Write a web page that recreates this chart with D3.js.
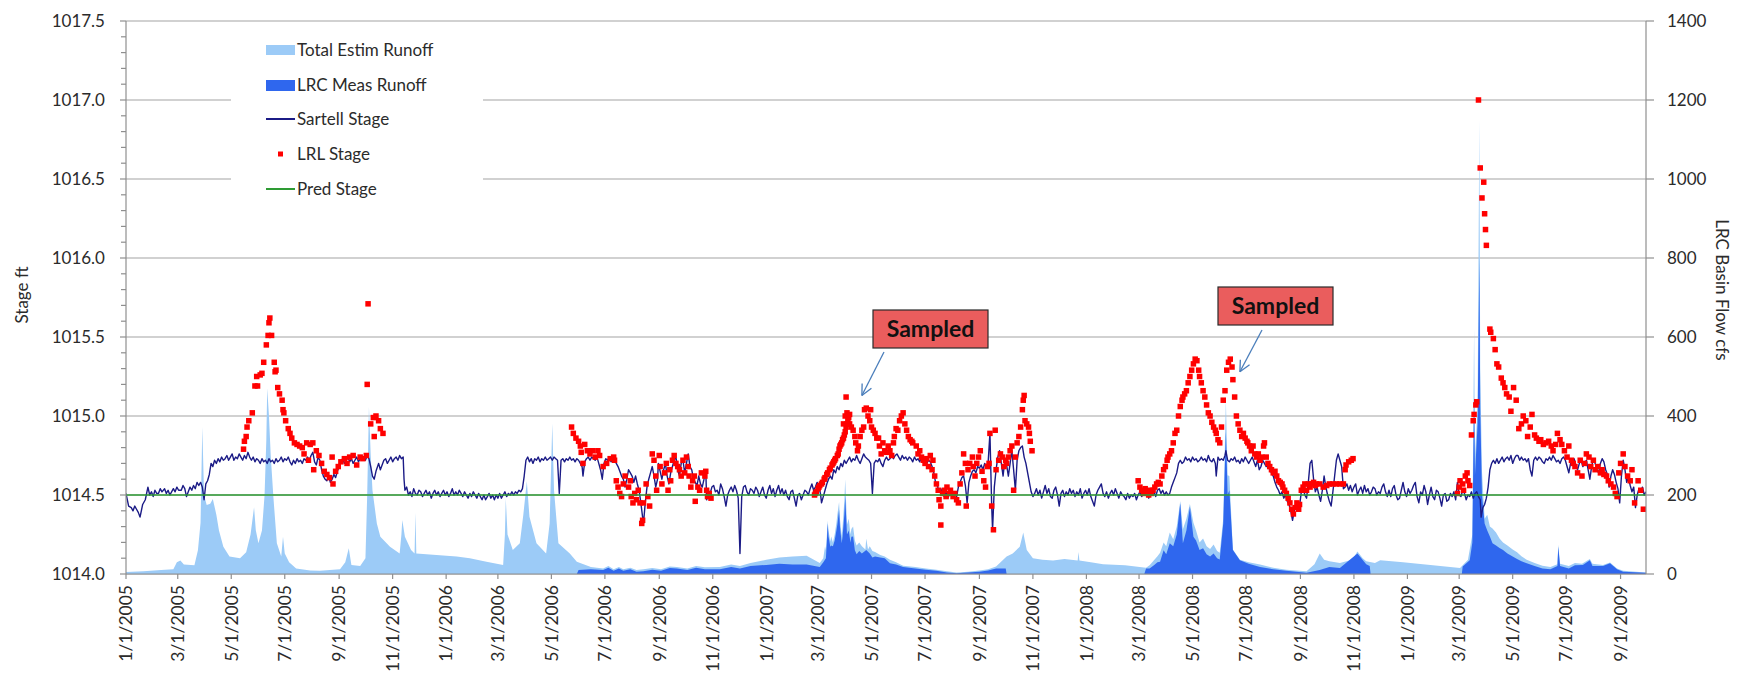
<!DOCTYPE html>
<html>
<head>
<meta charset="utf-8">
<script src="https://cdn.jsdelivr.net/npm/d3@7"></script>
<style>
html, body { margin: 0; padding: 0; background: #fff; }
svg { display: block; font-family: Lato, "Open Sans", "Noto Sans", sans-serif; }
</style>
</head>
<body>
<svg id="chart" width="1742" height="679"></svg>
<script>
// ---- data ------------------------------------------------------------
// Every series is keyed by day number counted from 1 Jan 2005.
const startDate = "2005-01-01";
const lastDay = 1733;

const stageTicks = [1014.0, 1014.5, 1015.0, 1015.5, 1016.0, 1016.5, 1017.0, 1017.5];
const flowTicks = [0, 200, 400, 600, 800, 1000, 1200, 1400];

const seriesNames = ["Total Estim Runoff", "LRC Meas Runoff", "Sartell Stage", "LRL Stage", "Pred Stage"];

// Total estimated runoff, cfs
const totalRunoff = [
[0,5],[20,7],[40,10],[54,12],[58,30],[62,34],[66,24],[78,22],[82,60],[85,130],[87,372],[89,200],[92,175],[96,178],[99,190],[103,150],[106,110],[111,69],[118,44],[130,40],[137,55],[142,100],[146,169],[148,111],[151,78],[155,110],[158,200],[160,340],[161,470],[163,400],[165,300],[168,196],[172,78],[177,44],[179,94],[181,52],[186,30],[194,14],[210,9],[221,8],[244,12],[250,30],[254,65],[257,23],[267,20],[273,40],[275,200],[277,423],[279,300],[281,212],[286,128],[290,94],[301,69],[312,52],[314,100],[315,137],[318,94],[325,61],[329,52],[330,155],[331,52],[354,48],[377,44],[392,40],[411,31],[430,23],[432,100],[433,191],[435,100],[441,61],[449,78],[453,150],[457,235],[460,145],[468,78],[479,52],[483,128],[486,381],[488,212],[493,78],[506,52],[514,31],[530,18],[544,14],[550,20],[556,12],[562,18],[567,12],[575,16],[582,10],[590,12],[600,15],[610,12],[620,19],[628,18],[640,14],[650,20],[660,17],[677,18],[690,24],[700,20],[712,28],[730,36],[745,42],[760,44],[776,46],[791,28],[795,40],[797,70],[798,60],[799,95],[800,135],[801,110],[803,82],[804,95],[806,80],[808,100],[810,130],[811,150],[813,182],[814,140],[816,96],[817,120],[819,185],[820,240],[822,125],[824,140],[826,100],[827,114],[829,120],[831,85],[833,72],[836,80],[839,70],[843,62],[844,90],[846,62],[848,70],[851,58],[854,56],[860,48],[865,44],[871,36],[878,30],[886,21],[900,18],[912,14],[924,11],[936,7],[947,4],[960,6],[973,9],[983,12],[992,19],[1004,44],[1011,52],[1019,69],[1023,105],[1027,61],[1034,40],[1045,36],[1057,34],[1070,38],[1085,34],[1086,56],[1087,34],[1100,30],[1114,25],[1139,22],[1163,16],[1167,22],[1172,35],[1176,45],[1179,54],[1183,80],[1186,70],[1190,105],[1194,88],[1198,120],[1202,185],[1205,113],[1209,140],[1213,177],[1217,130],[1220,110],[1224,80],[1228,90],[1232,70],[1236,63],[1240,75],[1244,58],[1247,54],[1251,140],[1254,440],[1256,250],[1258,248],[1262,62],[1270,36],[1280,30],[1293,24],[1308,16],[1323,11],[1346,7],[1355,25],[1361,52],[1366,36],[1372,32],[1384,28],[1398,36],[1404,57],[1410,40],[1414,32],[1424,28],[1430,35],[1456,30],[1490,22],[1521,15],[1530,36],[1535,100],[1537,622],[1538,300],[1541,420],[1543,1150],[1544,520],[1546,260],[1549,140],[1552,150],[1555,120],[1558,115],[1562,105],[1566,90],[1570,80],[1575,72],[1581,62],[1586,55],[1591,45],[1597,36],[1606,28],[1615,21],[1624,18],[1632,25],[1633,74],[1635,26],[1645,20],[1652,28],[1660,26],[1669,38],[1672,26],[1684,23],[1692,29],[1700,14],[1707,8],[1733,4]
];

// LRC measured runoff, cfs (null = no record)
const measRunoff = [
[514,0],[516,10],[530,12],[544,10],[550,16],[556,8],[562,14],[567,8],[575,12],[582,6],[590,7],[600,11],[610,8],[620,15],[628,14],[640,10],[650,16],[660,12],[677,12],[690,18],[700,14],[712,20],[730,23],[745,26],[760,24],[776,24],[791,18],[795,30],[798,40],[799,80],[800,128],[801,95],[803,69],[804,72],[806,70],[808,85],[810,111],[811,125],[813,162],[814,120],[816,78],[817,95],[819,150],[820,196],[822,100],[824,110],[826,80],[827,94],[829,95],[831,60],[833,50],[836,58],[839,52],[844,61],[848,52],[851,42],[854,44],[860,42],[865,40],[871,27],[878,24],[886,18],[900,14],[912,11],[924,8],[936,4],[947,2],[960,4],[973,6],[983,9],[992,14],[1003,14],[1004,0],[1005,null],
[1161,0],[1163,14],[1167,14],[1172,22],[1176,30],[1179,31],[1183,60],[1186,50],[1190,78],[1194,70],[1198,100],[1202,179],[1205,78],[1209,110],[1213,170],[1217,94],[1220,85],[1224,61],[1228,65],[1232,50],[1236,44],[1240,52],[1244,40],[1247,37],[1251,128],[1254,360],[1256,200],[1258,212],[1262,61],[1270,35],[1280,26],[1293,18],[1308,12],[1323,8],[1346,3],[1361,10],[1372,18],[1384,15],[1404,52],[1414,25],[1418,20],[1419,0],[1420,null],
[1523,0],[1524,19],[1532,35],[1535,80],[1537,450],[1538,250],[1541,380],[1543,800],[1544,420],[1546,200],[1549,128],[1552,110],[1555,95],[1558,78],[1562,72],[1566,66],[1570,61],[1575,52],[1581,44],[1586,38],[1591,32],[1597,27],[1606,20],[1615,14],[1624,12],[1632,20],[1633,69],[1635,20],[1645,14],[1652,22],[1661,23],[1669,35],[1672,20],[1684,20],[1692,27],[1700,12],[1707,6],[1733,3]
];

// Sartell stage, ft
const sartellStage = [
[0,1014.51],[3,1014.43],[6,1014.42],[8,1014.40],[10,1014.43],[12,1014.41],[14,1014.39],[16,1014.36],[19,1014.44],[22,1014.47],[25,1014.55],[27,1014.50],[29,1014.52],[31,1014.49],[33,1014.53],[35,1014.51],[37,1014.51],[39,1014.54],[41,1014.52],[44,1014.54],[46,1014.51],[48,1014.53],[50,1014.50],[52,1014.52],[54,1014.54],[56,1014.52],[58,1014.55],[60,1014.53],[63,1014.53],[65,1014.56],[67,1014.54],[69,1014.49],[71,1014.52],[73,1014.55],[75,1014.53],[77,1014.56],[79,1014.54],[81,1014.58],[83,1014.56],[85,1014.58],[87,1014.55],[89,1014.47],[91,1014.57],[93,1014.59],[95,1014.63],[97,1014.70],[99,1014.68],[101,1014.72],[103,1014.70],[105,1014.73],[107,1014.71],[109,1014.74],[111,1014.72],[113,1014.73],[115,1014.75],[117,1014.72],[119,1014.74],[121,1014.76],[123,1014.72],[125,1014.74],[127,1014.73],[129,1014.76],[131,1014.74],[133,1014.72],[135,1014.75],[137,1014.73],[139,1014.77],[141,1014.74],[143,1014.72],[145,1014.74],[147,1014.71],[149,1014.73],[151,1014.72],[153,1014.70],[155,1014.73],[157,1014.71],[159,1014.72],[161,1014.70],[163,1014.73],[165,1014.71],[167,1014.72],[169,1014.70],[171,1014.73],[173,1014.71],[175,1014.72],[177,1014.74],[179,1014.71],[181,1014.73],[183,1014.72],[185,1014.74],[187,1014.71],[189,1014.69],[191,1014.72],[193,1014.70],[195,1014.73],[197,1014.71],[199,1014.72],[201,1014.70],[203,1014.73],[205,1014.72],[207,1014.74],[209,1014.72],[211,1014.75],[213,1014.77],[215,1014.71],[217,1014.69],[219,1014.74],[221,1014.72],[223,1014.66],[225,1014.62],[227,1014.60],[229,1014.59],[231,1014.62],[233,1014.58],[235,1014.60],[237,1014.63],[239,1014.61],[241,1014.65],[243,1014.68],[245,1014.71],[247,1014.73],[249,1014.70],[251,1014.72],[253,1014.74],[255,1014.71],[257,1014.73],[259,1014.70],[261,1014.72],[263,1014.74],[265,1014.71],[267,1014.73],[269,1014.72],[271,1014.74],[273,1014.72],[275,1014.75],[277,1014.73],[279,1014.68],[281,1014.62],[283,1014.60],
[285,1014.65],[288,1014.70],[290,1014.66],[292,1014.69],[294,1014.72],[296,1014.73],[298,1014.70],[300,1014.72],[302,1014.74],[304,1014.71],[306,1014.73],[308,1014.74],[310,1014.72],[312,1014.75],[314,1014.73],[316,1014.74],[317,1014.60],[318,1014.53],[320,1014.55],[322,1014.50],[324,1014.52],[326,1014.49],[328,1014.54],[330,1014.51],[332,1014.50],[334,1014.53],[336,1014.52],[338,1014.49],[340,1014.51],[342,1014.53],[344,1014.50],[346,1014.52],[348,1014.48],[350,1014.51],[352,1014.53],[354,1014.50],[356,1014.52],[358,1014.49],[360,1014.51],[362,1014.53],[364,1014.50],[366,1014.52],[368,1014.49],[370,1014.51],[372,1014.54],[374,1014.50],[376,1014.52],[378,1014.50],[380,1014.53],[382,1014.51],[384,1014.49],[386,1014.52],[388,1014.50],[390,1014.48],[392,1014.51],[394,1014.49],[396,1014.52],[398,1014.50],[400,1014.48],[402,1014.51],[404,1014.49],[406,1014.47],[408,1014.50],[410,1014.47],[412,1014.49],[414,1014.51],[416,1014.48],[418,1014.50],[420,1014.47],[422,1014.50],[424,1014.48],[426,1014.51],[428,1014.48],[430,1014.50],[432,1014.52],[434,1014.49],[436,1014.51],[438,1014.50],[440,1014.52],[442,1014.50],[444,1014.52],[446,1014.51],[448,1014.53],[450,1014.52],[452,1014.54],[454,1014.62],[456,1014.72],[458,1014.74],[460,1014.71],[462,1014.73],[464,1014.70],[466,1014.73],[468,1014.72],[470,1014.74],[472,1014.71],[474,1014.73],[476,1014.72],[478,1014.74],[480,1014.72],[482,1014.73],[484,1014.74],[486,1014.72],[488,1014.74],[490,1014.73],[492,1014.72],[494,1014.51],[496,1014.72],[498,1014.73],[500,1014.71],[502,1014.73],[504,1014.72],[506,1014.74],[508,1014.72],[510,1014.73],[512,1014.71],[514,1014.73],[516,1014.72],[518,1014.70],[520,1014.68],[521,1014.62],[523,1014.71],[525,1014.73],[527,1014.74],[529,1014.72],[531,1014.74],[533,1014.73],[535,1014.72],[537,1014.74],[539,1014.70],[541,1014.66],[543,1014.60],[545,1014.70],[547,1014.73],[549,1014.72],[551,1014.74],[553,1014.71],[555,1014.73],[557,1014.72],[559,1014.70],[561,1014.68],[563,1014.65],[565,1014.62],[567,1014.60],[569,1014.55],
[571,1014.60],[573,1014.66],[575,1014.64],[577,1014.62],[579,1014.58],[581,1014.62],[583,1014.57],[585,1014.53],[587,1014.45],[589,1014.36],[590,1014.32],[592,1014.45],[594,1014.55],[596,1014.60],[598,1014.64],[600,1014.68],[602,1014.62],[604,1014.55],[606,1014.60],[607,1014.70],[609,1014.65],[611,1014.60],[613,1014.66],[615,1014.70],[617,1014.62],[619,1014.57],[621,1014.64],[623,1014.68],[625,1014.72],[627,1014.74],[629,1014.66],[631,1014.62],[633,1014.70],[635,1014.72],[637,1014.64],[639,1014.70],[641,1014.76],[643,1014.68],[645,1014.66],[647,1014.60],[649,1014.58],[651,1014.56],[653,1014.62],[655,1014.57],[657,1014.55],[659,1014.60],[661,1014.66],[662,1014.47],[664,1014.52],[666,1014.51],[668,1014.55],[670,1014.56],[672,1014.52],[674,1014.53],[676,1014.50],[678,1014.57],[680,1014.54],[682,1014.49],[684,1014.43],[686,1014.50],[688,1014.53],[690,1014.55],[692,1014.52],[694,1014.56],[696,1014.53],[698,1014.48],[700,1014.13],[702,1014.49],[704,1014.55],[706,1014.56],[708,1014.52],[710,1014.50],[712,1014.54],[714,1014.53],[716,1014.51],[718,1014.55],[720,1014.53],[722,1014.49],[724,1014.52],[726,1014.55],[728,1014.50],[730,1014.48],[732,1014.53],[734,1014.56],[736,1014.51],[738,1014.54],[740,1014.49],[742,1014.53],[744,1014.56],[746,1014.51],[748,1014.54],[750,1014.50],[752,1014.53],[754,1014.49],[756,1014.47],[758,1014.52],[760,1014.53],[762,1014.48],[764,1014.43],[766,1014.50],[768,1014.51],[770,1014.47],[772,1014.50],[774,1014.53],[776,1014.52],[778,1014.50],[780,1014.54],[782,1014.57],[784,1014.53],[786,1014.55],[788,1014.58],[790,1014.56],[792,1014.50],[793,1014.45],[795,1014.49],[797,1014.53],[799,1014.57],[801,1014.60],[803,1014.62],[805,1014.60],[807,1014.66],[809,1014.64],[811,1014.68],[813,1014.66],[815,1014.70],[817,1014.68],[819,1014.72],[821,1014.70],[823,1014.72],[825,1014.74],[827,1014.71],[829,1014.73],[831,1014.72],[833,1014.75],[835,1014.72],[837,1014.70],[839,1014.73],[841,1014.76],[843,1014.74],[845,1014.73],[847,1014.72],[849,1014.70],[851,1014.51],[853,1014.70],[855,1014.72],
[857,1014.71],[859,1014.73],[861,1014.70],[863,1014.68],[865,1014.72],[867,1014.74],[869,1014.72],[871,1014.73],[873,1014.75],[875,1014.73],[877,1014.75],[879,1014.76],[881,1014.74],[883,1014.72],[885,1014.75],[887,1014.73],[889,1014.74],[891,1014.72],[893,1014.74],[895,1014.73],[897,1014.71],[899,1014.74],[901,1014.72],[903,1014.73],[905,1014.71],[907,1014.74],[909,1014.72],[911,1014.73],[913,1014.70],[915,1014.72],[917,1014.71],[919,1014.68],[921,1014.64],[923,1014.58],[925,1014.56],[927,1014.52],[929,1014.54],[931,1014.51],[933,1014.49],[935,1014.52],[937,1014.48],[939,1014.51],[941,1014.53],[943,1014.50],[945,1014.52],[947,1014.49],[949,1014.55],[951,1014.58],[953,1014.61],[955,1014.62],[957,1014.56],[959,1014.45],[961,1014.58],[963,1014.62],[965,1014.65],[967,1014.66],[969,1014.64],[971,1014.68],[973,1014.67],[975,1014.69],[977,1014.66],[979,1014.70],[981,1014.68],[983,1014.71],[985,1014.89],[987,1014.43],[988,1014.28],[990,1014.55],[992,1014.66],[994,1014.74],[996,1014.78],[998,1014.70],[1000,1014.62],[1002,1014.72],[1004,1014.69],[1006,1014.62],[1008,1014.70],[1010,1014.78],[1012,1014.66],[1014,1014.53],[1016,1014.72],[1018,1014.78],[1020,1014.80],[1022,1014.81],[1024,1014.74],[1026,1014.70],[1028,1014.64],[1030,1014.58],[1032,1014.52],[1034,1014.49],[1036,1014.51],[1038,1014.54],[1040,1014.50],[1042,1014.53],[1044,1014.48],[1046,1014.52],[1048,1014.56],[1050,1014.51],[1052,1014.54],[1054,1014.49],[1056,1014.48],[1058,1014.53],[1060,1014.55],[1062,1014.50],[1064,1014.43],[1066,1014.51],[1068,1014.53],[1070,1014.49],[1072,1014.52],[1074,1014.50],[1076,1014.54],[1078,1014.51],[1080,1014.53],[1082,1014.49],[1084,1014.52],[1086,1014.50],[1088,1014.54],[1090,1014.48],[1092,1014.51],[1094,1014.53],[1096,1014.50],[1098,1014.54],[1100,1014.49],[1102,1014.46],[1104,1014.43],[1106,1014.50],[1108,1014.53],[1110,1014.55],[1112,1014.57],[1114,1014.51],[1116,1014.49],[1118,1014.52],[1120,1014.48],[1122,1014.51],[1124,1014.53],[1126,1014.50],[1128,1014.54],[1130,1014.51],[1132,1014.48],[1134,1014.52],[1136,1014.50],[1138,1014.49],[1140,1014.47],
[1142,1014.51],[1144,1014.48],[1146,1014.50],[1148,1014.49],[1150,1014.51],[1152,1014.47],[1154,1014.50],[1156,1014.52],[1158,1014.49],[1160,1014.51],[1162,1014.50],[1164,1014.52],[1166,1014.48],[1168,1014.51],[1170,1014.50],[1172,1014.52],[1174,1014.49],[1176,1014.53],[1178,1014.54],[1180,1014.51],[1182,1014.53],[1184,1014.50],[1186,1014.52],[1188,1014.50],[1190,1014.51],[1192,1014.55],[1194,1014.58],[1196,1014.61],[1198,1014.64],[1200,1014.70],[1202,1014.72],[1204,1014.70],[1206,1014.71],[1208,1014.74],[1210,1014.72],[1212,1014.73],[1214,1014.71],[1216,1014.74],[1218,1014.72],[1220,1014.73],[1222,1014.71],[1224,1014.72],[1226,1014.74],[1228,1014.72],[1230,1014.73],[1232,1014.71],[1234,1014.75],[1236,1014.72],[1238,1014.71],[1240,1014.73],[1242,1014.70],[1243,1014.62],[1245,1014.74],[1247,1014.72],[1249,1014.73],[1251,1014.72],[1253,1014.75],[1254,1014.78],[1256,1014.72],[1258,1014.71],[1260,1014.73],[1262,1014.72],[1264,1014.74],[1266,1014.71],[1268,1014.72],[1270,1014.70],[1272,1014.73],[1274,1014.71],[1276,1014.74],[1278,1014.72],[1280,1014.70],[1282,1014.72],[1284,1014.74],[1286,1014.71],[1288,1014.68],[1290,1014.72],[1292,1014.66],[1294,1014.68],[1296,1014.72],[1298,1014.70],[1300,1014.68],[1302,1014.70],[1304,1014.66],[1306,1014.64],[1308,1014.62],[1310,1014.58],[1312,1014.55],[1314,1014.53],[1316,1014.50],[1318,1014.52],[1320,1014.48],[1322,1014.50],[1324,1014.46],[1326,1014.44],[1328,1014.40],[1330,1014.34],[1332,1014.40],[1334,1014.45],[1336,1014.41],[1338,1014.43],[1340,1014.52],[1342,1014.55],[1344,1014.50],[1346,1014.48],[1348,1014.58],[1350,1014.70],[1352,1014.72],[1354,1014.60],[1356,1014.52],[1358,1014.55],[1360,1014.50],[1362,1014.46],[1364,1014.53],[1366,1014.62],[1368,1014.55],[1370,1014.50],[1372,1014.46],[1374,1014.43],[1376,1014.52],[1378,1014.62],[1380,1014.72],[1382,1014.76],[1384,1014.72],[1386,1014.68],[1388,1014.54],[1390,1014.55],[1392,1014.57],[1394,1014.53],[1396,1014.56],[1398,1014.52],[1400,1014.55],[1402,1014.57],[1404,1014.50],[1406,1014.53],[1408,1014.55],[1410,1014.51],[1412,1014.56],[1414,1014.52],[1416,1014.54],[1418,1014.50],[1420,1014.52],[1422,1014.55],
[1424,1014.54],[1426,1014.50],[1428,1014.52],[1430,1014.51],[1432,1014.55],[1434,1014.57],[1436,1014.52],[1438,1014.49],[1440,1014.53],[1442,1014.49],[1444,1014.54],[1446,1014.56],[1448,1014.50],[1450,1014.47],[1452,1014.48],[1454,1014.53],[1456,1014.58],[1458,1014.52],[1460,1014.49],[1462,1014.54],[1464,1014.51],[1466,1014.53],[1468,1014.56],[1470,1014.58],[1472,1014.49],[1474,1014.45],[1476,1014.52],[1478,1014.50],[1480,1014.56],[1482,1014.52],[1484,1014.44],[1486,1014.50],[1488,1014.55],[1490,1014.49],[1492,1014.47],[1494,1014.53],[1496,1014.52],[1498,1014.48],[1500,1014.43],[1502,1014.50],[1504,1014.51],[1506,1014.46],[1508,1014.47],[1510,1014.51],[1512,1014.49],[1514,1014.52],[1516,1014.47],[1518,1014.58],[1520,1014.50],[1522,1014.49],[1524,1014.53],[1526,1014.51],[1528,1014.47],[1530,1014.50],[1532,1014.49],[1534,1014.52],[1536,1014.48],[1538,1014.51],[1540,1014.52],[1542,1014.49],[1544,1014.47],[1545,1014.36],[1547,1014.42],[1549,1014.44],[1551,1014.48],[1553,1014.55],[1555,1014.66],[1557,1014.70],[1559,1014.72],[1561,1014.70],[1563,1014.73],[1565,1014.70],[1567,1014.72],[1569,1014.74],[1571,1014.71],[1573,1014.73],[1575,1014.74],[1577,1014.72],[1579,1014.75],[1581,1014.70],[1583,1014.73],[1585,1014.75],[1587,1014.75],[1589,1014.72],[1591,1014.74],[1593,1014.72],[1595,1014.73],[1597,1014.71],[1599,1014.73],[1601,1014.66],[1603,1014.62],[1605,1014.72],[1607,1014.74],[1609,1014.72],[1611,1014.74],[1613,1014.73],[1615,1014.71],[1617,1014.70],[1619,1014.73],[1621,1014.72],[1623,1014.74],[1625,1014.72],[1627,1014.75],[1629,1014.73],[1631,1014.71],[1633,1014.72],[1635,1014.70],[1637,1014.73],[1639,1014.74],[1641,1014.72],[1643,1014.68],[1645,1014.64],[1647,1014.70],[1649,1014.72],[1651,1014.73],[1653,1014.69],[1655,1014.66],[1657,1014.70],[1659,1014.72],[1661,1014.68],[1663,1014.70],[1665,1014.72],[1667,1014.66],[1669,1014.60],[1671,1014.68],[1673,1014.73],[1675,1014.70],[1677,1014.66],[1679,1014.64],[1681,1014.70],[1683,1014.73],[1685,1014.71],[1687,1014.66],[1689,1014.63],[1691,1014.55],[1693,1014.62],[1695,1014.66],[1697,1014.63],[1699,1014.58],[1701,1014.54],[1703,1014.45],[1705,1014.62],[1707,1014.72],[1709,1014.66],[1711,1014.58],[1713,1014.61],[1715,1014.56],[1717,1014.52],[1719,1014.55],[1721,1014.42],[1723,1014.50],[1725,1014.54],[1727,1014.52],[1729,1014.55],[1731,1014.50],[1733,1014.52]
];

// LRL stage readings, ft
const lrlStage = [
[134,1014.79],[135,1014.84],[137,1014.87],[138,1014.93],[140,1014.97],[144,1015.02],[147,1015.19],[149,1015.25],[150,1015.19],[153,1015.26],[155,1015.27],[157,1015.34],[160,1015.45],[162,1015.51],[163,1015.59],[164,1015.62],[166,1015.51],[169,1015.34],[170,1015.28],[171,1015.29],[173,1015.18],[175,1015.14],[178,1015.10],[179,1015.04],[180,1015.02],[182,1014.97],[185,1014.92],[187,1014.89],[189,1014.86],[192,1014.83],[195,1014.82],[198,1014.81],[201,1014.80],[203,1014.76],[206,1014.83],[208,1014.72],[210,1014.82],[213,1014.83],[214,1014.66],[217,1014.78],[220,1014.75],[223,1014.70],[226,1014.65],[229,1014.63],[232,1014.61],[235,1014.74],[236,1014.57],[239,1014.65],[242,1014.68],[245,1014.71],[249,1014.73],[252,1014.70],[255,1014.74],[259,1014.75],[263,1014.69],[267,1014.74],[270,1014.73],[274,1014.75],[275,1015.20],[276,1015.71],[279,1014.95],[282,1014.99],[283,1014.87],[285,1015.00],[288,1014.97],[290,1014.92],[293,1014.89],
[508,1014.93],[510,1014.89],[513,1014.86],[516,1014.84],[518,1014.81],[519,1014.77],[521,1014.70],[523,1014.82],[526,1014.78],[529,1014.76],[532,1014.78],[535,1014.74],[538,1014.78],[540,1014.75],[544,1014.68],[548,1014.70],[552,1014.73],[556,1014.74],[557,1014.72],[559,1014.59],[561,1014.55],[563,1014.51],[565,1014.49],[567,1014.57],[569,1014.62],[573,1014.55],[575,1014.59],[576,1014.49],[578,1014.45],[580,1014.51],[582,1014.47],[584,1014.53],[586,1014.45],[588,1014.32],[589,1014.34],[590,1014.45],[593,1014.57],[595,1014.49],[597,1014.43],[600,1014.76],[602,1014.72],[604,1014.62],[605,1014.53],[608,1014.75],[609,1014.68],[611,1014.57],[614,1014.64],[616,1014.70],[618,1014.53],[620,1014.66],[621,1014.59],[623,1014.72],[625,1014.75],[627,1014.70],[629,1014.68],[631,1014.66],[633,1014.62],[635,1014.72],[637,1014.64],[639,1014.74],[641,1014.68],[642,1014.62],[644,1014.55],[646,1014.59],[648,1014.62],[649,1014.46],[652,1014.55],[654,1014.53],[656,1014.64],[660,1014.62],[661,1014.65],[662,1014.53],[663,1014.49],[665,1014.51],[667,1014.48],
[785,1014.50],[786,1014.51],[787,1014.52],[789,1014.54],[790,1014.55],[791,1014.56],[793,1014.57],[794,1014.58],[796,1014.60],[797,1014.61],[799,1014.63],[800,1014.64],[802,1014.66],[803,1014.67],[805,1014.69],[806,1014.70],[807,1014.71],[808,1014.72],[809,1014.73],[811,1014.75],[812,1014.76],[813,1014.79],[814,1014.81],[815,1014.82],[816,1014.83],[817,1014.85],[818,1014.86],[819,1014.88],[820,1014.90],[821,1014.93],[822,1014.95],[823,1014.97],[824,1014.99],[825,1015.01],
[818,1014.95],[820,1015.00],[821,1015.12],[822,1015.02],[825,1014.95],[827,1014.93],[829,1014.91],[831,1014.87],[832,1014.83],[834,1014.78],[835,1014.81],[837,1014.87],[839,1014.91],[841,1014.93],[842,1015.04],[844,1015.05],[846,1015.00],[848,1014.97],[849,1015.04],[850,1014.93],[852,1014.91],[854,1014.89],[856,1014.86],[858,1014.86],[859,1014.81],[861,1014.76],[863,1014.83],[865,1014.78],[867,1014.77],[869,1014.81],[871,1014.78],[873,1014.75],[875,1014.83],[876,1014.87],[878,1014.92],[880,1014.91],[882,1014.97],[884,1015.00],[886,1015.02],[888,1014.95],[890,1014.91],[892,1014.87],[894,1014.85],[896,1014.84],[897,1014.83],[901,1014.81],[903,1014.76],[905,1014.78],[907,1014.74],[909,1014.72],[911,1014.70],[913,1014.73],[915,1014.68],[917,1014.75],[919,1014.66],[920,1014.72],[922,1014.62],[924,1014.57],[926,1014.53],[927,1014.47],[929,1014.43],[929,1014.31],[931,1014.51],[933,1014.53],[935,1014.49],[936,1014.55],[939,1014.51],[940,1014.53],[943,1014.49],[945,1014.51],[947,1014.47],[949,1014.45],[951,1014.57],[953,1014.64],[955,1014.76],[957,1014.70],[958,1014.43],[960,1014.66],[962,1014.70],[965,1014.74],[966,1014.68],[968,1014.62],[970,1014.70],[972,1014.74],[974,1014.78],[976,1014.65],[978,1014.59],[980,1014.55],[982,1014.68],[984,1014.70],[985,1014.89],[987,1014.43],[989,1014.28],[991,1014.91],[992,1014.66],[995,1014.72],[997,1014.76],[999,1014.74],[1001,1014.68],[1003,1014.72],[1004,1014.70],[1006,1014.74],[1008,1014.78],[1010,1014.81],[1012,1014.53],[1014,1014.74],[1016,1014.83],[1018,1014.87],[1020,1014.93],[1022,1015.04],[1023,1015.10],[1024,1015.13],[1025,1014.97],[1027,1014.95],[1029,1014.93],[1030,1014.89],[1031,1014.84],[1033,1014.78],
[1154,1014.59],[1156,1014.55],[1158,1014.53],[1160,1014.51],[1162,1014.54],[1164,1014.52],[1166,1014.50],[1167,1014.53],[1169,1014.51],[1171,1014.53],[1173,1014.55],[1175,1014.57],[1177,1014.58],[1179,1014.57],[1181,1014.62],[1183,1014.66],[1185,1014.68],[1187,1014.72],[1188,1014.74],[1190,1014.76],[1192,1014.78],[1194,1014.83],[1196,1014.89],[1198,1014.91],[1200,1015.00],[1202,1015.06],[1204,1015.10],[1205,1015.12],[1207,1015.14],[1209,1015.16],[1211,1015.21],[1213,1015.25],[1215,1015.29],[1217,1015.33],[1219,1015.36],[1221,1015.35],[1223,1015.29],[1224,1015.25],[1226,1015.21],[1228,1015.16],[1230,1015.12],[1232,1015.07],[1234,1015.02],[1236,1015.00],[1238,1014.96],[1240,1014.93],[1242,1014.91],[1243,1014.89],[1245,1014.85],[1247,1014.83],[1249,1014.93],[1251,1015.10],[1253,1015.16],[1255,1015.29],[1257,1015.34],[1259,1015.36],[1261,1015.31],[1262,1015.23],[1264,1015.12],[1266,1015.00],[1268,1014.95],[1270,1014.91],[1272,1014.87],[1274,1014.89],[1276,1014.86],[1278,1014.84],[1279,1014.83],[1281,1014.81],[1283,1014.78],[1285,1014.81],[1287,1014.76],[1289,1014.74],[1291,1014.76],[1293,1014.72],[1295,1014.74],[1297,1014.81],[1298,1014.83],[1300,1014.74],[1302,1014.70],[1304,1014.68],[1306,1014.66],[1308,1014.64],[1310,1014.65],[1312,1014.62],[1314,1014.59],[1316,1014.58],[1318,1014.57],[1319,1014.55],[1321,1014.53],[1323,1014.51],[1325,1014.48],[1327,1014.45],[1329,1014.41],[1331,1014.38],[1333,1014.42],[1335,1014.45],[1337,1014.41],[1338,1014.44],[1340,1014.53],[1342,1014.55],[1344,1014.57],[1346,1014.53],[1348,1014.57],[1350,1014.55],[1352,1014.57],[1354,1014.58],[1356,1014.56],[1357,1014.57],[1361,1014.57],[1365,1014.55],[1369,1014.56],[1372,1014.57],[1376,1014.57],[1380,1014.57],[1384,1014.57],[1388,1014.57],[1390,1014.66],[1391,1014.69],[1394,1014.71],[1397,1014.72],[1399,1014.73],
[1518,1014.51],[1520,1014.55],[1521,1014.59],[1524,1014.57],[1525,1014.53],[1527,1014.62],[1529,1014.64],[1530,1014.59],[1532,1014.56],[1534,1014.88],[1536,1014.97],[1537,1015.01],[1539,1015.07],[1540,1015.09],[1542,1017.00],[1544,1016.57],[1546,1016.38],[1548,1016.48],[1549,1016.28],[1550,1016.18],[1551,1016.08],[1555,1015.55],[1556,1015.53],[1559,1015.49],[1561,1015.42],[1563,1015.33],[1565,1015.31],[1568,1015.24],[1570,1015.21],[1572,1015.18],[1574,1015.14],[1577,1015.12],[1579,1015.03],[1582,1015.18],[1585,1015.10],[1588,1014.92],[1591,1014.95],[1593,1015.00],[1596,1014.97],[1598,1014.87],[1601,1014.93],[1603,1015.01],[1606,1014.88],[1608,1014.86],[1611,1014.84],[1613,1014.85],[1616,1014.82],[1619,1014.83],[1622,1014.84],[1625,1014.81],[1627,1014.78],[1630,1014.82],[1632,1014.89],[1635,1014.85],[1637,1014.82],[1640,1014.78],[1643,1014.74],[1645,1014.81],[1648,1014.72],[1650,1014.70],[1652,1014.68],[1655,1014.64],[1658,1014.72],[1660,1014.62],[1663,1014.70],[1665,1014.76],[1668,1014.74],[1670,1014.68],[1673,1014.72],[1675,1014.66],[1678,1014.68],[1681,1014.64],[1683,1014.66],[1685,1014.63],[1688,1014.62],[1690,1014.59],[1693,1014.57],[1696,1014.55],[1698,1014.51],[1700,1014.49],[1702,1014.64],[1704,1014.70],[1707,1014.76],[1709,1014.68],[1712,1014.62],[1715,1014.59],[1717,1014.66],[1720,1014.45],[1724,1014.59],[1727,1014.53],[1730,1014.41]
];

// Predicted stage, ft
const predStage = [[0,1014.5],[lastDay,1014.5]];

// Call-outs: tip at (day, stage), box top-left and arrow tail in page pixels
const callouts = [
  { text: "Sampled", tipDay: 839, tipStage: 1015.13, boxX: 873, boxY: 310, tailX: 884, tailY: 352 },
  { text: "Sampled", tipDay: 1270, tipStage: 1015.28, boxX: 1218, boxY: 287, tailX: 1262, tailY: 330 }
];

// ---- drawing ---------------------------------------------------------
const C = {
  total: "#9ccbf7", meas: "#2f67ee", sartell: "#1b1b86", lrl: "#ff0000", pred: "#2e9b34",
  grid: "#a3a3a3", axis: "#8f8f8f", text: "#2b2b2b"
};
const M = { left: 126, right: 1646, top: 21, bottom: 574 };

const svg = d3.select("#chart");
const t0 = d3.utcParse("%Y-%m-%d")(startDate);
const dayDate = d => d3.utcDay.offset(t0, d);

const x = d3.scaleUtc().domain([t0, dayDate(lastDay)]).range([M.left, M.right]);
const yL = d3.scaleLinear().domain([1014, 1017.5]).range([M.bottom, M.top]);
const yR = d3.scaleLinear().domain([0, 1400]).range([M.bottom, M.top]);

svg.append("defs").append("clipPath").attr("id", "plotClip")
  .append("rect").attr("x", M.left).attr("y", M.top)
  .attr("width", M.right - M.left).attr("height", M.bottom - M.top);

// gridlines
svg.append("g").selectAll("line").data(stageTicks).join("line")
  .attr("x1", M.left).attr("x2", M.right)
  .attr("y1", d => yL(d)).attr("y2", d => yL(d))
  .attr("stroke", C.grid).attr("stroke-width", 1.2);

const plot = svg.append("g").attr("clip-path", "url(#plotClip)");

// runoff areas (right axis)
const area = d3.area()
  .defined(d => d[1] !== null)
  .x(d => x(dayDate(d[0])))
  .y0(yR(0)).y1(d => yR(d[1]));
plot.append("path").datum(totalRunoff).attr("d", area).attr("fill", C.total);
plot.append("path").datum(measRunoff).attr("d", area).attr("fill", C.meas);

// Sartell stage line
const stageLine = d3.line().x(d => x(dayDate(d[0]))).y(d => yL(d[1]));
plot.append("path").datum(sartellStage).attr("d", stageLine)
  .attr("fill", "none").attr("stroke", C.sartell).attr("stroke-width", 1.4)
  .attr("stroke-linejoin", "round");

// LRL stage markers
const sq = 5.5;
plot.append("g").selectAll("rect").data(lrlStage).join("rect")
  .attr("x", d => x(dayDate(d[0])) - sq / 2).attr("y", d => yL(d[1]) - sq / 2)
  .attr("width", sq).attr("height", sq).attr("fill", C.lrl);

// predicted stage
plot.append("path").datum(predStage).attr("d", stageLine)
  .attr("fill", "none").attr("stroke", C.pred).attr("stroke-width", 1.6);

// axes lines
const axes = svg.append("g").attr("stroke", C.axis).attr("stroke-width", 1.2);
axes.append("line").attr("x1", M.left).attr("x2", M.left).attr("y1", M.top).attr("y2", M.bottom);
axes.append("line").attr("x1", M.right).attr("x2", M.right).attr("y1", M.top).attr("y2", M.bottom);
axes.append("line").attr("x1", M.left).attr("x2", M.right).attr("y1", M.bottom).attr("y2", M.bottom);

// left axis ticks
const minor = yL.ticks(35).filter(v => Math.abs(v * 2 - Math.round(v * 2)) > 1e-6);
axes.selectAll(".mn").data(minor).join("line")
  .attr("x1", M.left - 5).attr("x2", M.left).attr("y1", d => yL(d)).attr("y2", d => yL(d));
axes.selectAll(".mjL").data(stageTicks).join("line")
  .attr("x1", M.left - 6).attr("x2", M.left).attr("y1", d => yL(d)).attr("y2", d => yL(d));
axes.selectAll(".mjR").data(flowTicks).join("line")
  .attr("x1", M.right).attr("x2", M.right + 8).attr("y1", d => yR(d)).attr("y2", d => yR(d));

const xTicks = x.ticks(d3.utcMonth.every(2)).filter(d => d <= x.domain()[1]);
axes.selectAll(".mjX").data(xTicks).join("line")
  .attr("x1", d => x(d)).attr("x2", d => x(d)).attr("y1", M.bottom).attr("y2", M.bottom + 5);

// tick labels
const fmtStage = d3.format(".1f");
const txt = svg.append("g").attr("fill", C.text).attr("font-size", 17);
txt.selectAll(".lt").data(stageTicks).join("text")
  .attr("x", 105).attr("y", d => yL(d)).attr("dy", "0.36em")
  .attr("text-anchor", "end").text(d => fmtStage(d));
txt.selectAll(".rt").data(flowTicks).join("text")
  .attr("x", 1667).attr("y", d => yR(d)).attr("dy", "0.36em")
  .attr("text-anchor", "start").text(d => d);
const fmtDate = d3.utcFormat("%-m/%-d/%Y");
txt.selectAll(".xt").data(xTicks).join("text")
  .attr("transform", d => `translate(${x(d)},${M.bottom + 11}) rotate(-90)`)
  .attr("dy", "0.36em").attr("text-anchor", "end").attr("font-size", 17.5)
  .text(d => fmtDate(d));

// axis titles
txt.append("text").attr("transform", "translate(22,295) rotate(-90)")
  .attr("text-anchor", "middle").attr("dy", "0.36em").attr("font-size", 17).text("Stage ft");
txt.append("text").attr("transform", "translate(1722,290) rotate(90)")
  .attr("text-anchor", "middle").attr("dy", "0.36em").attr("font-size", 17).text("LRC Basin Flow cfs");

// legend
const lg = svg.append("g");
lg.append("rect").attr("x", 231).attr("y", 28).attr("width", 252).attr("height", 178).attr("fill", "#fff");
const rowY = [50, 85, 119, 154, 189];
const sx = 266, sw = 29;
lg.append("rect").attr("x", sx).attr("y", rowY[0] - 5).attr("width", sw).attr("height", 10).attr("fill", C.total);
lg.append("rect").attr("x", sx).attr("y", rowY[1] - 5).attr("width", sw).attr("height", 11).attr("fill", C.meas);
lg.append("line").attr("x1", sx).attr("x2", sx + sw).attr("y1", rowY[2]).attr("y2", rowY[2])
  .attr("stroke", C.sartell).attr("stroke-width", 2);
lg.append("rect").attr("x", sx + sw / 2 - 2.5).attr("y", rowY[3] - 2.5).attr("width", 5).attr("height", 5).attr("fill", C.lrl);
lg.append("line").attr("x1", sx).attr("x2", sx + sw).attr("y1", rowY[4]).attr("y2", rowY[4])
  .attr("stroke", C.pred).attr("stroke-width", 2);
lg.selectAll("text").data(seriesNames).join("text")
  .attr("x", 297).attr("y", (d, i) => rowY[i]).attr("dy", "0.36em")
  .attr("fill", C.text).attr("font-size", 17).text(d => d);

// call-outs
const co = svg.append("g");
callouts.forEach(c => {
  const tx = x(dayDate(c.tipDay)), ty = yL(c.tipStage);
  co.append("line").attr("x1", c.tailX).attr("y1", c.tailY).attr("x2", tx).attr("y2", ty)
    .attr("stroke", "#4a7ebb").attr("stroke-width", 1.3);
  const ang = Math.atan2(ty - c.tailY, tx - c.tailX);
  [-0.45, 0.45].forEach(a => {
    co.append("line").attr("x1", tx).attr("y1", ty)
      .attr("x2", tx - 12 * Math.cos(ang + a)).attr("y2", ty - 12 * Math.sin(ang + a))
      .attr("stroke", "#4a7ebb").attr("stroke-width", 1.3);
  });
  co.append("rect").attr("x", c.boxX).attr("y", c.boxY).attr("width", 115).attr("height", 38)
    .attr("fill", "#ea5d5d").attr("stroke", "#2a2a2a").attr("stroke-width", 1.2);
  co.append("text").attr("x", c.boxX + 57.5).attr("y", c.boxY + 19).attr("dy", "0.36em")
    .attr("text-anchor", "middle").attr("font-weight", "bold").attr("font-size", 23)
    .attr("fill", "#111").text(c.text);
});
</script>
</body>
</html>
